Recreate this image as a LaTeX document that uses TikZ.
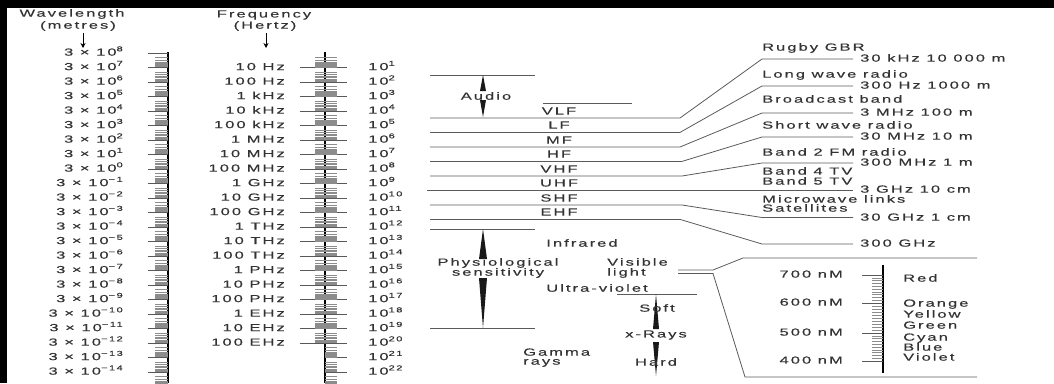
\documentclass[tikz,border=0pt]{standalone}
\usepackage{fontspec}
\setmainfont[FakeStretch=1.6,LetterSpace=20,FakeBold=0.4]{Liberation Sans}
\usetikzlibrary{arrows.meta}
\definecolor{txt}{HTML}{333333}
\definecolor{lin}{HTML}{5A5A5A}
\newcommand\supx[1]{\raisebox{0.8ex}{\fontsize{7}{7}\selectfont #1}}
\begin{document}
\begin{tikzpicture}[x=1pt,y=-1pt,
  lbl/.style={inner sep=0pt, text=txt, font=\fontsize{10.3}{11}\selectfont},
  thinline/.style={draw=lin, line width=0.8pt},
  ruler/.style={draw=black, line width=2.4pt},
  tick/.style={draw=black!45, line width=0.35pt},
  mtick/.style={draw=black!65, line width=0.6pt},
  wedge/.style={fill=black!90, draw=none},
  hdarrow/.style={draw=black, line width=0.9pt, -{Stealth[length=5pt,width=5pt]}}]
\useasboundingbox (0,0) rectangle (1054,383);
% frame
\fill[black] (0,0) rectangle (1054,8);
\fill[black] (0,0) rectangle (7,383);
% headers
\node[lbl] (hwl) at (72,14) {Wavelength};
\node[lbl] (hwm) at (78,26) {(metres)};
\coordinate (wa1) at (83,33); \coordinate (wa2) at (83,48);
\draw[hdarrow] (wa1) -- (wa2);
\node[lbl] (hfr) at (264,15) {Frequency};
\node[lbl] (hfh) at (265,26) {(Hertz)};
\coordinate (fa1) at (266,33); \coordinate (fa2) at (266,48);
\draw[hdarrow] (fa1) -- (fa2);
% wavelength labels
\foreach \i in {0,...,22}{
  \pgfmathtruncatemacro\e{8-\i}
  \node[lbl, anchor=mid east] (wl\i) at (123,{53+14.5*\i})
    {3 × 10\supx{\ifnum\e<0 −\the\numexpr-\e\relax\else\e\fi}};
}
% left ruler
\draw[ruler] (168,52) -- (168,383);
\foreach \i in {0,...,22}{
  \draw[mtick] (148,{53+14.5*\i}) -- (168,{53+14.5*\i});
  \foreach \k in {2,...,9}
    \draw[tick] (155,{53+14.5*(\i+log10(\k))}) -- (168,{53+14.5*(\i+log10(\k))});
}
% frequency labels
\foreach \i/\t in {1/10 Hz,2/100 Hz,3/1 kHz,4/10 kHz,5/100 kHz,6/1 MHz,7/10 MHz,8/100 MHz,
  9/1 GHz,10/10 GHz,11/100 GHz,12/1 THz,13/10 THz,14/100 THz,15/1 PHz,16/10 PHz,17/100 PHz,
  18/1 EHz,19/10 EHz,20/100 EHz}{
  \node[lbl, anchor=mid east] (hz\i) at (285,{53+14.5*\i}) {\t};
}
\foreach \i in {1,...,22}{
  \node[lbl, anchor=mid west] (ex\i) at (368,{53+14.5*\i}) {10\supx{\i}};
}
% frequency ruler
\draw[ruler] (325,52) -- (325,383);
\foreach \i in {1,...,20}
  \draw[mtick] (300,{53+14.5*\i}) -- (347,{53+14.5*\i});
\foreach \i in {21,22}
  \draw[mtick] (325,{53+14.5*\i}) -- (347,{53+14.5*\i});
\foreach \i in {0,...,19}{
  \foreach \k in {2,...,9}
    \draw[tick] (315,{53+14.5*(\i+log10(\k))}) -- (337,{53+14.5*(\i+log10(\k))});
}
\foreach \i in {20,21,22}{
  \foreach \k in {2,...,9}
    \draw[tick] (325,{53+14.5*(\i+log10(\k))}) -- (337,{53+14.5*(\i+log10(\k))});
}
% audio
\draw[thinline] (430,75) -- (535,75);
\fill[wedge] (483,75) -- (486,91) -- (480,91) -- cycle;
\fill[wedge] (483,117) -- (486,100) -- (480,100) -- cycle;
\node[lbl] (audio) at (486,96) {Audio};
% VLF top
\draw[thinline] (543,103) -- (632,103);
% band lines
\draw[thinline] (430,118) -- (680,118) -- (762,59) -- (853,59);
\draw[thinline] (430,132.4) -- (680,132.4) -- (762,86) -- (853,86);
\draw[thinline] (430,147) -- (680,147) -- (762,113) -- (853,113);
\draw[thinline] (430,161.4) -- (682,161.4) -- (762,137) -- (853,137);
\draw[thinline] (430,176) -- (682,176) -- (762,163) -- (853,163);
\draw[thinline] (427,190.2) -- (853,190.2);
\draw[thinline] (430,205) -- (682,205) -- (762,217.5) -- (853,217.5);
\draw[thinline] (430,219.4) -- (680,219.4) -- (762,244) -- (853,244);
% band names
\foreach \n/\t/\yy in {vlf/VLF/111,lf/LF/125,mf/MF/140,hf/HF/154,vhf/VHF/169,uhf/UHF/183,shf/SHF/198,ehf/EHF/212}
  \node[lbl] (\n) at (559,\yy) {\t};
% application labels
\foreach \n/\t/\yy in {a1/Rugby GBR/48,a2/Long wave radio/75,a3/Broadcast band/100,a4/Short wave radio/126,
  a5/Band 2 FM radio/153,a6/Band 4 TV/172,a7/Band 5 TV/182,a8/Microwave links/200,a9/Satellites/209}
  \node[lbl, anchor=mid west] (\n) at (762,\yy) {\t};
\foreach \n/\t/\yy in {v1/30 kHz 10 000 m/59,v2/300 Hz 1000 m/86,v3/3 MHz 100 m/113,v4/30 MHz 10 m/137,
  v5/300 MHz 1 m/163,v6/3 GHz 10 cm/190,v7/30 GHz 1 cm/218,v8/300 GHz/244}
  \node[lbl, anchor=mid west] (\n) at (860,\yy) {\t};
% physiological
\draw[thinline] (430,229) -- (535,229);
\draw[thinline] (430,328) -- (535,328);
\fill[wedge] (483,229) -- (487,259) -- (479,259) -- cycle;
\fill[wedge] (483,328) -- (487,278) -- (479,278) -- cycle;
\node[lbl] (phys1) at (498,263) {Physiological};
\node[lbl] (phys2) at (498,273) {sensitivity};
\node[lbl] (ir) at (582,243) {Infrared};
\node[lbl, anchor=mid west] (vis1) at (607,263) {Visible};
\node[lbl, anchor=mid west] (vis2) at (607,273) {light};
\node[lbl] (uv) at (597,288) {Ultra-violet};
\draw[thinline] (617,294) -- (697,294);
\fill[wedge] (656,294) -- (659,329) -- (653,329) -- cycle;
\fill[wedge] (656,376) -- (659,342) -- (653,342) -- cycle;
\node[lbl] (soft) at (657,308) {Soft};
\node[lbl] (xr) at (656,335) {x-Rays};
\node[lbl] (hard) at (656,362) {Hard};
\node[lbl, anchor=mid west] (gam1) at (523,353) {Gamma};
\node[lbl, anchor=mid west] (gam2) at (523,362) {rays};
% visible box
\draw[thinline] (678,270) -- (713,270) -- (743,258) -- (977,258);
\draw[thinline] (678,273.5) -- (713,273.5) -- (745,377) -- (977,377);
\draw[ruler] (883,265) -- (883,373);
\foreach \yy/\t in {275/700,303/600,333/500,361/400}{
  \draw[mtick] (862,\yy) -- (883,\yy);
  \node[lbl, anchor=mid east] (nm\t) at (843,\yy) {\t\ nM};
}
\foreach \a/\b in {275/303,303/333,333/361}{
  \foreach \k in {1,...,9}
    \draw[tick] (872,{\a+(\b-\a)*\k/10}) -- (883,{\a+(\b-\a)*\k/10});
}
\foreach \n/\t/\yy in {c1/Red/279,c2/Orange/304,c3/Yellow/315,c4/Green/326,c5/Cyan/338,c6/Blue/348,c7/Violet/358}
  \node[lbl, anchor=mid west] (\n) at (903,\yy) {\t};
\end{tikzpicture}
\end{document}
